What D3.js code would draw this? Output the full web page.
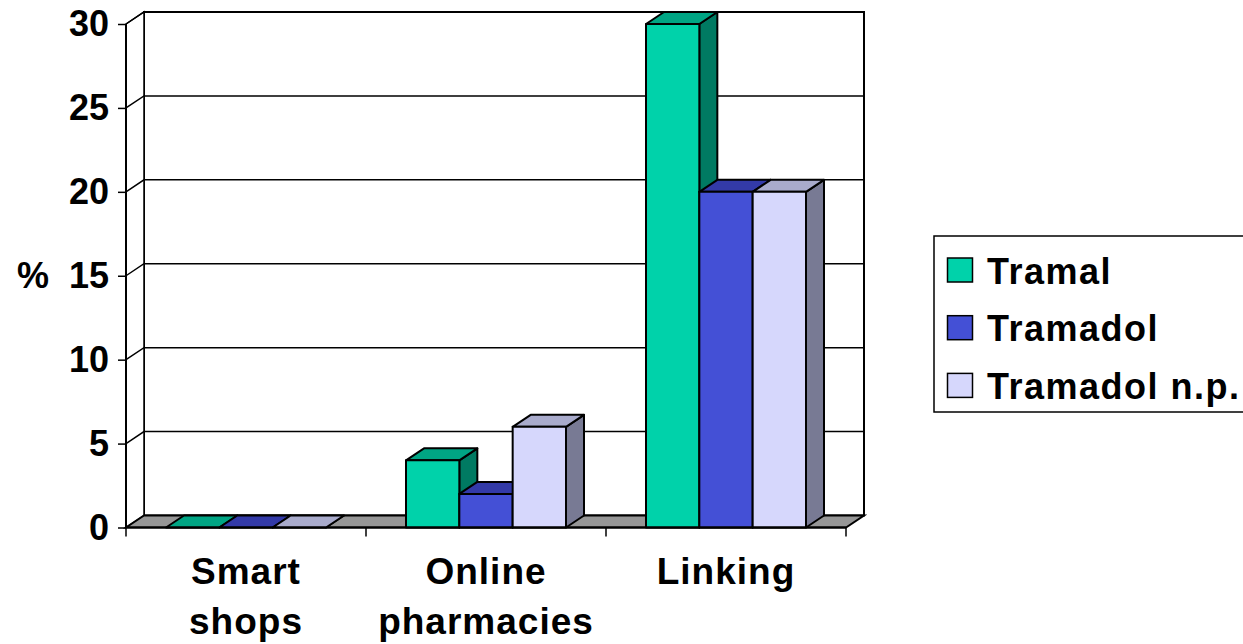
<!DOCTYPE html>
<html>
<head>
<meta charset="utf-8">
<script src="https://cdn.jsdelivr.net/npm/d3@7"></script>
<style>
  body { margin: 0; background: #fff; }
  svg text { font-family: "Liberation Sans", Arial, sans-serif; font-weight: bold; fill: #000; }
</style>
</head>
<body>
<script>
  //Data
  var categories = ["Smart shops", "Online pharmacies", "Linking"];
  var series = ["Tramal", "Tramadol", "Tramadol n.p."];
  var tramal = [0, 4, 30];
  var tramadol = [0, 2, 20];
  var tramadolNp = [0, 6, 20];
  var yTicks = [0, 5, 10, 15, 20, 25, 30];

  //colours per series: front, top, side
  var frontColors = ["#00d2aa", "#4450d6", "#d6d7fc"];
  var topColors = ["#00a584", "#333aa8", "#a9abcc"];
  var sideColors = ["#007a62", "#2a2f8a", "#787a94"];

  var w = 1243; //svg width
  var h = 644; //svg height
  var dx = 18, dy = -12; //3d depth offset

  var values = [tramal, tramadol, tramadolNp];

  var svg = d3.select("body")
      .append("svg")
      .attr("width", w)
      .attr("height", h);

  //SCALES
  var x = d3.scaleBand()
      .domain(categories)
      .range([126, 846]);

  var xInner = d3.scaleBand()
      .domain(series)
      .range([40, 200]);

  var y = d3.scaleLinear()
      .domain([0, 30])
      .range([527.5, 24]);

  var pts = function(arr) {
      return arr.map(function(p) { return p.join(","); }).join(" ");
  };

  //WALLS
  svg.append("polygon")
      .attr("points", pts([[x.range()[0] + dx, y(30) + dy], [x.range()[1] + dx, y(30) + dy],
                           [x.range()[1] + dx, y(0) + dy], [x.range()[0] + dx, y(0) + dy]]))
      .attr("fill", "#fff")
      .attr("stroke", "#000")
      .attr("stroke-width", 2);

  svg.append("polygon")
      .attr("points", pts([[x.range()[0], y(30)], [x.range()[0] + dx, y(30) + dy],
                           [x.range()[0] + dx, y(0) + dy], [x.range()[0], y(0)]]))
      .attr("fill", "#fff")
      .attr("stroke", "#000")
      .attr("stroke-width", 1.5);

  //GRIDLINES
  svg.selectAll("polyline.grid")
      .data(yTicks.slice(1))
      .enter()
      .append("polyline")
      .attr("class", "grid")
      .attr("points", function(d) {
          return pts([[x.range()[0], y(d)], [x.range()[0] + dx, y(d) + dy], [x.range()[1] + dx, y(d) + dy]]);
      })
      .attr("fill", "none")
      .attr("stroke", "#000")
      .attr("stroke-width", 1.5);

  //FLOOR
  svg.append("polygon")
      .attr("points", pts([[x.range()[0], y(0)], [x.range()[1], y(0)],
                           [x.range()[1] + dx, y(0) + dy], [x.range()[0] + dx, y(0) + dy]]))
      .attr("fill", "#969696")
      .attr("stroke", "#000")
      .attr("stroke-width", 2);

  //BARS
  var bars = [];
  categories.forEach(function(c, ci) {
      series.forEach(function(s, si) {
          bars.push({ cat: c, ser: s, si: si, value: values[si][ci] });
      });
  });

  var barG = svg.selectAll("g.bar")
      .data(bars)
      .enter()
      .append("g")
      .attr("class", "bar");

  var geo = function(d) {
      var x0 = x(d.cat) + xInner(d.ser);
      var x1 = x0 + xInner.bandwidth();
      return { x0: x0, x1: x1, yt: y(d.value), yb: y(0) };
  };

  barG.append("polygon")
      .attr("points", function(d) {
          var g = geo(d);
          return pts([[g.x1, g.yt], [g.x1 + dx, g.yt + dy], [g.x1 + dx, g.yb + dy], [g.x1, g.yb]]);
      })
      .attr("fill", function(d) { return sideColors[d.si]; });

  barG.append("polygon")
      .attr("points", function(d) {
          var g = geo(d);
          return pts([[g.x0, g.yt], [g.x1, g.yt], [g.x1 + dx, g.yt + dy], [g.x0 + dx, g.yt + dy]]);
      })
      .attr("fill", function(d) { return topColors[d.si]; });

  barG.append("rect")
      .attr("x", function(d) { return geo(d).x0; })
      .attr("y", function(d) { return geo(d).yt; })
      .attr("width", xInner.bandwidth())
      .attr("height", function(d) { return geo(d).yb - geo(d).yt; })
      .attr("fill", function(d) { return frontColors[d.si]; });

  barG.selectAll("polygon, rect")
      .attr("stroke", "#000")
      .attr("stroke-width", 2)
      .attr("stroke-linejoin", "round");

  //Y AXIS
  var yAxis = svg.append("g")
      .attr("transform", "translate(" + x.range()[0] + ",0)")
      .call(d3.axisLeft(y).tickValues(yTicks).tickSize(8).tickPadding(9));

  yAxis.select(".domain")
      .attr("stroke-width", 2)
      .attr("d", "M0," + y(30) + "V" + y(0));
  yAxis.selectAll(".tick line").attr("stroke-width", 1.5);
  yAxis.selectAll("text")
      .style("font-size", "36px")
      .attr("fill", "#000");

  svg.append("text")
      .attr("x", 33)
      .attr("y", y(15))
      .attr("dy", "0.35em")
      .attr("text-anchor", "middle")
      .style("font-size", "36px")
      .text("%");

  //X AXIS
  var tickXs = categories.map(function(c) { return x(c); }).concat([x.range()[1]]);
  svg.selectAll("line.xtick")
      .data(tickXs)
      .enter()
      .append("line")
      .attr("class", "xtick")
      .attr("x1", function(d) { return d; })
      .attr("x2", function(d) { return d; })
      .attr("y1", y(0))
      .attr("y2", y(0) + 9)
      .attr("stroke", "#000")
      .attr("stroke-width", 1.5);

  svg.append("line")
      .attr("x1", x.range()[0])
      .attr("x2", x.range()[1])
      .attr("y1", y(0))
      .attr("y2", y(0))
      .attr("stroke", "#000")
      .attr("stroke-width", 2);

  var xLabels = svg.selectAll("text.xlabel")
      .data(categories)
      .enter()
      .append("text")
      .attr("class", "xlabel")
      .attr("text-anchor", "middle")
      .style("font-size", "37px")
      .style("letter-spacing", "1px");

  xLabels.selectAll("tspan")
      .data(function(d) {
          return d.split(" ").map(function(word) { return { cat: d, word: word }; });
      })
      .enter()
      .append("tspan")
      .attr("x", function(d) { return x(d.cat) + x.bandwidth() / 2; })
      .attr("y", function(d, i) { return 584 + i * 50; })
      .text(function(d) { return d.word; });

  //LEGEND
  var legend = svg.append("g")
      .attr("transform", "translate(934,236)");

  legend.append("rect")
      .attr("width", 340)
      .attr("height", 176)
      .attr("fill", "#fff")
      .attr("stroke", "#000")
      .attr("stroke-width", 1.5);

  var items = legend.selectAll("g.item")
      .data(series)
      .enter()
      .append("g")
      .attr("class", "item")
      .attr("transform", function(d, i) { return "translate(0," + (i * 57.7) + ")"; });

  items.append("rect")
      .attr("x", 13.5)
      .attr("y", 22)
      .attr("width", 25)
      .attr("height", 24)
      .attr("fill", function(d, i) { return frontColors[i]; })
      .attr("stroke", "#000")
      .attr("stroke-width", 1.5);

  items.append("text")
      .attr("x", 53)
      .attr("y", 47.5)
      .style("font-size", "36px")
      .style("letter-spacing", "1.5px")
      .text(function(d) { return d; });
</script>
</body>
</html>
